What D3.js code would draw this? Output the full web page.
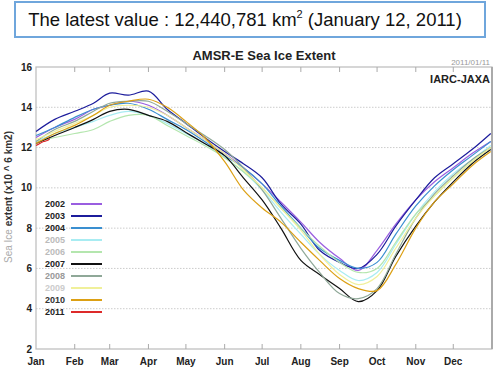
<!DOCTYPE html>
<html>
<head>
  <script src="https://d3js.org/d3.v7.min.js"></script>
  <style>
    body { margin: 0; background: #fff; }
    text { font-family: Arial, "Liberation Sans", sans-serif; }
  </style>
</head>
<body>
  <script>
    // sample days (day of year) and read-off extents (x10^6 km2)
    const days = [0, 15, 31, 46, 59, 74, 90, 105, 120, 135, 151, 166, 181, 196, 212, 227, 243, 258, 273, 288, 304, 319, 334, 349, 364];
    const days2011 = [0, 3, 6, 9, 11];

    const y2002 = [12.5, 13.0, 13.4, 13.9, 14.1, 14.3, 14.1, 13.6, 13.0, 12.4, 11.7, 11.0, 10.2, 9.3, 8.3, 7.3, 6.5, 5.9, 6.9, 8.2, 9.4, 10.3, 11.0, 11.7, 12.3];
    const y2003 = [12.8, 13.4, 13.8, 14.2, 14.7, 14.6, 14.8, 13.9, 13.2, 12.5, 11.8, 11.2, 10.5, 9.2, 8.2, 6.9, 6.3, 6.0, 6.7, 8.1, 9.4, 10.5, 11.2, 11.9, 12.7];
    const y2004 = [12.6, 13.0, 13.5, 13.9, 14.1, 14.2, 13.9, 13.4, 12.9, 12.3, 11.6, 11.0, 10.2, 9.1, 8.0, 7.0, 6.4, 6.0, 6.3, 7.7, 9.1, 10.1, 10.9, 11.6, 12.3];
    const y2005 = [12.3, 12.7, 13.0, 13.3, 13.6, 13.8, 13.6, 13.2, 12.7, 12.2, 11.5, 10.8, 9.9, 8.8, 7.7, 6.7, 5.9, 5.4, 5.8, 7.2, 8.7, 9.8, 10.7, 11.4, 12.1];
    const y2006 = [12.3, 12.5, 12.7, 12.9, 13.3, 13.6, 13.6, 13.1, 12.6, 12.1, 11.5, 10.8, 10.0, 9.0, 8.0, 7.1, 6.3, 5.8, 6.0, 7.3, 8.7, 9.6, 10.5, 11.3, 12.0];
    const y2007 = [12.2, 12.6, 13.0, 13.4, 13.8, 13.9, 13.6, 13.3, 12.75, 12.2, 11.6, 10.5, 9.4, 8.0, 6.4, 5.7, 5.0, 4.35, 4.9, 6.6, 8.1, 9.3, 10.3, 11.2, 11.9];
    const y2008 = [12.3, 12.9, 13.3, 13.8, 14.2, 14.3, 14.3, 13.8, 13.2, 12.6, 11.9, 11.0, 9.9, 8.5, 7.0, 5.8, 4.75, 4.5, 5.0, 6.7, 8.5, 9.7, 10.6, 11.4, 12.0];
    const y2009 = [12.4, 12.8, 13.2, 13.6, 14.0, 14.1, 14.0, 13.6, 13.0, 12.4, 11.7, 10.9, 10.0, 9.0, 7.9, 6.7, 5.7, 5.2, 5.6, 7.0, 8.5, 9.6, 10.5, 11.3, 12.0];
    const y2010 = [12.2, 12.7, 13.1, 13.6, 14.1, 14.3, 14.4, 14.0, 13.3, 12.5, 11.3, 9.9, 9.0, 8.3, 7.3, 6.4, 5.5, 5.0, 4.9, 6.2, 8.0, 9.3, 10.2, 11.1, 11.8];
    const y2011 = [12.1, 12.2, 12.3, 12.35, 12.44];

    const years = ["2002", "2003", "2004", "2005", "2006", "2007", "2008", "2009", "2010", "2011"];
    const colors = ["#9a5ee0", "#1c1c9c", "#3a8fd0", "#a8ecf2", "#b4e6ae", "#111111", "#8fa898", "#f0f09a", "#dca014", "#dd2a2a"];
    const labelColors = ["#222", "#222", "#222", "#bbb", "#bbb", "#222", "#999", "#ccc", "#333", "#222"];

    const monthNames = ["Jan", "Feb", "Mar", "Apr", "May", "Jun", "Jul", "Aug", "Sep", "Oct", "Nov", "Dec"];
    const monthStarts = [0, 31, 59, 90, 120, 151, 181, 212, 243, 273, 304, 334];
    const yTicks = [2, 4, 6, 8, 10, 12, 14, 16];

    const series = [
      {days: days, vals: y2002}, {days: days, vals: y2003}, {days: days, vals: y2004},
      {days: days, vals: y2005}, {days: days, vals: y2006}, {days: days, vals: y2007},
      {days: days, vals: y2008}, {days: days, vals: y2009}, {days: days, vals: y2010},
      {days: days2011, vals: y2011}
    ];

    const w = 497, h = 368;
    const pLeft = 36, pRight = 492, pTop = 67, pBottom = 349;

    const x = d3.scaleLinear().domain([0, 365]).range([pLeft, pRight]);
    const y = d3.scaleLinear().domain([2, 16]).range([pBottom, pTop]);

    const svg = d3.select("body").append("svg")
      .attr("width", w).attr("height", h);

    // header box
    svg.append("rect")
      .attr("x", 15).attr("y", 2).attr("width", 470).attr("height", 35)
      .attr("fill", "#fff").attr("stroke", "#6fa6dc").attr("stroke-width", 2);
    const head = svg.append("text")
      .attr("x", 245).attr("y", 26).attr("text-anchor", "middle")
      .attr("font-size", 18.5).attr("fill", "#111");
    head.append("tspan").text("The latest value : 12,440,781 km");
    head.append("tspan").attr("font-size", 11).attr("dy", -8).text("2");
    head.append("tspan").attr("dy", 8).text(" (January 12, 2011)");

    // chart title
    svg.append("text")
      .attr("x", 264).attr("y", 60).attr("text-anchor", "middle")
      .attr("font-size", 13).attr("font-weight", "bold").attr("fill", "#222")
      .text("AMSR-E Sea Ice Extent");

    // grid lines
    svg.append("g").selectAll("line")
      .data(yTicks.filter(d => d > 2 && d < 16))
      .enter().append("line")
      .attr("x1", pLeft).attr("x2", pRight)
      .attr("y1", d => y(d)).attr("y2", d => y(d))
      .attr("stroke", "#ccc").attr("stroke-dasharray", "1.5,1.5");

    // frame
    svg.append("rect")
      .attr("x", pLeft).attr("y", pTop).attr("width", pRight - pLeft).attr("height", pBottom - pTop)
      .attr("fill", "none").attr("stroke", "#bbb").attr("stroke-width", 1.2);
    svg.append("line")
      .attr("x1", pRight).attr("x2", pRight).attr("y1", pTop).attr("y2", pBottom)
      .attr("stroke", "#aaa").attr("stroke-width", 2);

    // y axis tick labels
    svg.append("g").selectAll("text")
      .data(yTicks).enter().append("text")
      .attr("x", 32).attr("y", d => y(d) + 3.5)
      .attr("text-anchor", "end")
      .attr("font-size", 10).attr("font-weight", "bold").attr("fill", "#222")
      .text(d => d);

    // month ticks top and bottom
    const mt = svg.append("g");
    mt.selectAll(".tb").data(monthStarts.slice(1)).enter().append("line")
      .attr("x1", d => x(d)).attr("x2", d => x(d))
      .attr("y1", pBottom).attr("y2", pBottom - 5)
      .attr("stroke", "#aaa");
    mt.selectAll(".tt").data(monthStarts.slice(1)).enter().append("line")
      .attr("x1", d => x(d)).attr("x2", d => x(d))
      .attr("y1", pTop).attr("y2", pTop + 5)
      .attr("stroke", "#aaa");

    // month labels
    svg.append("g").selectAll("text")
      .data(monthNames).enter().append("text")
      .attr("x", (d, i) => x(monthStarts[i]))
      .attr("y", 365)
      .attr("text-anchor", "middle")
      .attr("font-size", 10).attr("font-weight", "bold").attr("fill", "#222")
      .text(d => d);

    // y axis title
    const yt = svg.append("text")
      .attr("transform", "translate(12,197) rotate(-90)")
      .attr("text-anchor", "middle")
      .attr("font-size", 10);
    yt.append("tspan").attr("fill", "#aaa").text("Sea Ice ");
    yt.append("tspan").attr("fill", "#333").attr("font-weight", "bold").text("extent (x10 ^ 6 km2)");

    // date + source
    svg.append("text")
      .attr("x", 490).attr("y", 65).attr("text-anchor", "end")
      .attr("font-size", 8).attr("fill", "#999").text("2011/01/11");
    svg.append("text")
      .attr("x", 490).attr("y", 83).attr("text-anchor", "end")
      .attr("font-size", 11).attr("font-weight", "bold").attr("fill", "#222").text("IARC-JAXA");

    // data lines
    const line = d3.line()
      .x(d => x(d[0])).y(d => y(d[1]))
      .curve(d3.curveCatmullRom);

    svg.append("g").selectAll("path")
      .data(series).enter().append("path")
      .attr("d", s => line(s.days.map((d, i) => [d, s.vals[i]])))
      .attr("fill", "none")
      .attr("stroke", (s, i) => colors[i])
      .attr("stroke-width", 1.2);

    // legend
    const lg = svg.append("g").selectAll("g")
      .data(years).enter().append("g")
      .attr("transform", (d, i) => "translate(0," + (204 + i * 12) + ")");
    lg.append("text")
      .attr("x", 45).attr("y", 3)
      .attr("font-size", 9).attr("font-weight", "bold")
      .attr("fill", (d, i) => labelColors[i])
      .text(d => d);
    lg.append("line")
      .attr("x1", 71).attr("x2", 102).attr("y1", 0).attr("y2", 0)
      .attr("stroke", (d, i) => colors[i]).attr("stroke-width", 2);
  </script>
</body>
</html>
